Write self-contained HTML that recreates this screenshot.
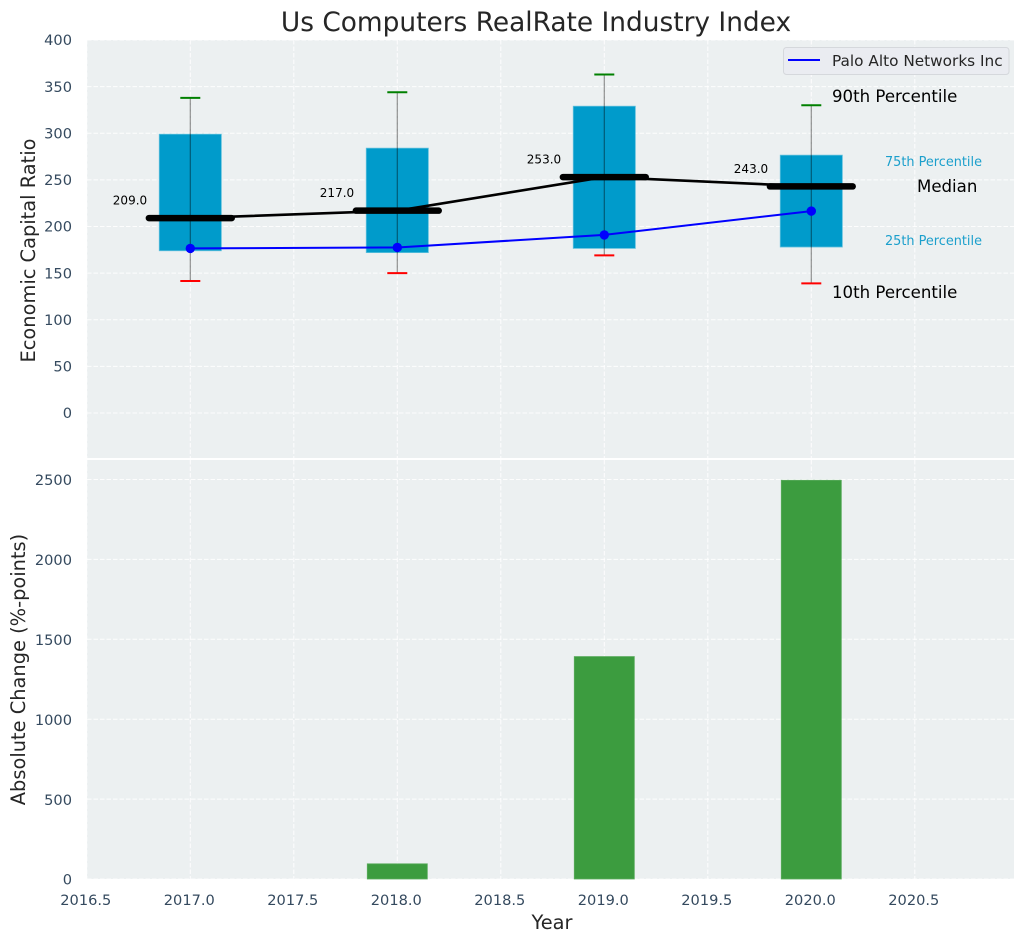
<!DOCTYPE html>
<html>
<head>
<meta charset="utf-8">
<title>Us Computers RealRate Industry Index</title>
<style>
html,body{margin:0;padding:0;background:#fff;}
svg{display:block;font-family:"DejaVu Sans","Liberation Sans",sans-serif;}
</style>
</head>
<body>
<svg id="chart" xmlns="http://www.w3.org/2000/svg" width="1026" height="942" viewBox="0 0 1026 942">
  <rect x="0" y="0" width="1026" height="942" fill="#ffffff"/>
  <rect x="87" y="40" width="927" height="418" fill="#ecf0f1"/>
  <rect x="87" y="460" width="927" height="419" fill="#ecf0f1"/>
  <g id="grid"></g>
  <g id="bars"></g>
  <g id="boxes"></g>
  <g id="ticks"></g>
  <text x="536" y="31" font-size="26.4" fill="#262626" text-anchor="middle">Us Computers RealRate Industry Index</text>
  <text transform="translate(35,250.5) rotate(-90)" font-size="19.4" fill="#262626" text-anchor="middle">Economic Capital Ratio</text>
  <text transform="translate(25,669.5) rotate(-90)" font-size="19.4" fill="#262626" text-anchor="middle">Absolute Change (%-points)</text>
  <text x="552" y="929" font-size="19.4" fill="#262626" text-anchor="middle">Year</text>
  <text x="832" y="102" font-size="16.6" fill="#000000">90th Percentile</text>
  <text x="885" y="166" font-size="12.85" fill="#1b9fcc">75th Percentile</text>
  <text x="917" y="192" font-size="16.6" fill="#000000">Median</text>
  <text x="885" y="245" font-size="12.85" fill="#1b9fcc">25th Percentile</text>
  <text x="832" y="298" font-size="16.6" fill="#000000">10th Percentile</text>
  <g>
    <rect x="783.5" y="47.5" width="225.5" height="27" rx="3" fill="#eaecf1" stroke="#d5d8dc" stroke-width="1"/>
    <line x1="788" y1="60" x2="820" y2="60" stroke="#0000ff" stroke-width="2"/>
    <text x="832" y="66" font-size="15.3" fill="#262626">Palo Alto Networks Inc</text>
  </g>
  <rect x="87" y="458" width="939" height="2" fill="#ffffff"/>
</svg>
<script>
const years = [2017, 2018, 2019, 2020];
const p90 = [338, 344, 363, 330];
const p75 = [299, 284, 329, 276.5];
const median = [209, 217, 253, 243];
const p25 = [174, 172, 176.5, 178];
const p10 = [141.5, 150, 169, 139];
const company = [176.5, 177.5, 191, 216.5];
const changeYears = [2018, 2019, 2020];
const absoluteChange = [95, 1392, 2495];
const xTicks = [2016.5, 2017, 2017.5, 2018, 2018.5, 2019, 2019.5, 2020, 2020.5];
const topYTicks = [0, 50, 100, 150, 200, 250, 300, 350, 400];
const bottomYTicks = [0, 500, 1000, 1500, 2000, 2500];

function xScale(v) { return 86.8 + (v - 2016.5) * 207; }
function yTop(v) { return 413 - v * 0.9325; }
function yBottom(v) { return 879 - v * 0.1598; }

const NS = 'http://www.w3.org/2000/svg';
function mk(parent, tag, attrs, text) {
  const e = document.createElementNS(NS, tag);
  for (const k in attrs) e.setAttribute(k, attrs[k]);
  if (text !== undefined) e.textContent = text;
  parent.appendChild(e);
  return e;
}
const gridG = document.getElementById('grid');
const barsG = document.getElementById('bars');
const boxG = document.getElementById('boxes');
const tickG = document.getElementById('ticks');
const gridStyle = { stroke: '#ffffff', 'stroke-width': 1, 'stroke-dasharray': '4.5 2', opacity: 0.9 };
const TICK = '#34495e';
let el;

xTicks.forEach(function (t) {
  const x = xScale(t);
  el = mk(gridG, 'line', Object.assign({ x1: x, x2: x, y1: 40, y2: 458 }, gridStyle));
  
  
  el = mk(gridG, 'line', Object.assign({ x1: x, x2: x, y1: 460, y2: 879 }, gridStyle));
  
  
  el = mk(tickG, 'text', { x: x - 1, y: 905, 'font-size': 14.6, fill: TICK, 'text-anchor': 'middle' }, t.toFixed(1));
  
  
});

topYTicks.forEach(function (t) {
  const y = yTop(t);
  el = mk(gridG, 'line', Object.assign({ x1: 87, x2: 1014, y1: y, y2: y }, gridStyle));
  
  
  el = mk(tickG, 'text', { x: 72, y: y + 5.2, 'font-size': 14.6, fill: TICK, 'text-anchor': 'end' }, String(t));
  
  
});

bottomYTicks.forEach(function (t) {
  const y = yBottom(t);
  el = mk(gridG, 'line', Object.assign({ x1: 87, x2: 1014, y1: y, y2: y }, gridStyle));
  
  
  el = mk(tickG, 'text', { x: 72, y: y + 5.7, 'font-size': 14.6, fill: TICK, 'text-anchor': 'end' }, String(t));
  
  
});

changeYears.forEach(function (yr, i) {
  const x0 = xScale(yr - 0.145);
  const x1 = xScale(yr + 0.145);
  const top = yBottom(absoluteChange[i]);
  el = mk(barsG, 'rect', { x: x0, y: top, width: x1 - x0, height: yBottom(0) - top, fill: '#3c9c3f', stroke: '#59ab5c', 'stroke-width': 0.8 });
  
  
});

years.forEach(function (yr, i) {
  const x0 = xScale(yr - 0.15);
  const x1 = xScale(yr + 0.15);
  const top = yTop(p75[i]);
  el = mk(boxG, 'rect', { x: x0, y: top, width: x1 - x0, height: yTop(p25[i]) - top, fill: '#009bcb', stroke: '#5cbfdc', 'stroke-width': 0.8 });
  
  
});

el = mk(boxG, 'polyline', { points: years.map(function (yr, i) { return xScale(yr) + ',' + yTop(median[i]); }).join(' '), fill: 'none', stroke: '#000000', 'stroke-width': 2.6 });



years.forEach(function (yr, i) {
  const x = xScale(yr);
  el = mk(boxG, 'line', { x1: x, x2: x, y1: yTop(p90[i]), y2: yTop(p10[i]), stroke: '#000000', 'stroke-opacity': 0.42, 'stroke-width': 1.2 });
  
  
  el = mk(boxG, 'line', { x1: x - 10, x2: x + 10, y1: yTop(p90[i]), y2: yTop(p90[i]), stroke: '#008000', 'stroke-width': 2 });
  
  
  el = mk(boxG, 'line', { x1: x - 10, x2: x + 10, y1: yTop(p10[i]), y2: yTop(p10[i]), stroke: '#ff0000', 'stroke-width': 2 });
  
  
  el = mk(boxG, 'line', { x1: xScale(yr - 0.2), x2: xScale(yr + 0.2), y1: yTop(median[i]), y2: yTop(median[i]), stroke: '#000000', 'stroke-width': 6.5, 'stroke-linecap': 'round' });
  
  
  el = mk(boxG, 'text', { x: x - 77.5, y: yTop(median[i]) - 13.5, 'font-size': 12, fill: '#000000' }, median[i].toFixed(1));
  
  
});

el = mk(boxG, 'polyline', { points: years.map(function (yr, i) { return xScale(yr) + ',' + yTop(company[i]); }).join(' '), fill: 'none', stroke: '#0000ff', 'stroke-width': 2 });



years.forEach(function (yr, i) {
  el = mk(boxG, 'circle', { cx: xScale(yr), cy: yTop(company[i]), r: 4.7, fill: '#0000ff' });
  
  
});
</script>
</body>
</html>
